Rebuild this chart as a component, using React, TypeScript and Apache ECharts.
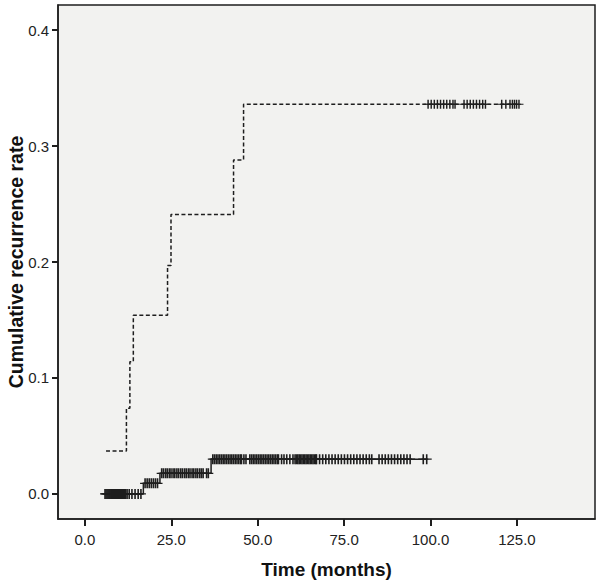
import React, { useEffect, useRef } from "react";
import * as echarts from "echarts";

// Step curve of group A (dashed): [time, cumulative rate]
const dashedSteps: [number, number][] = [
  [6.1, 0.037], [12.0, 0.074], [13.0, 0.114], [14.0, 0.154], [23.9, 0.197],
  [24.9, 0.241], [43.0, 0.288], [45.9, 0.336], [125.6, 0.336],
];
const dashedCensorLevel = 0.336;
const dashedCensorTimes = [
  99.3, 100.2, 101.1, 102.0, 102.9, 103.8, 104.7, 105.6, 106.5, 107.1,
  109.7, 110.6, 111.5, 112.4, 113.3, 114.2, 115.1, 115.9,
  120.6, 121.8, 123.0, 123.7, 124.3, 124.9, 125.6,
];

// Step curve of group B (solid)
const solidSteps: [number, number][] = [
  [5.8, 0.0], [16.9, 0.0092], [21.7, 0.0178], [36.5, 0.030], [98.9, 0.030],
];
const solidCensorLevels = [0.0, 0.0092, 0.0178, 0.030];
const solidCensorTimes: number[][] = [
  [5.8, 6.1, 6.4, 6.7, 7.0, 7.3, 7.6, 7.9, 8.2, 8.5, 8.8, 9.1, 9.4, 9.7, 10.0,
    10.3, 10.6, 10.9, 11.2, 11.5, 11.8, 12.2, 12.8, 13.6, 14.5, 15.4, 16.2],
  [17.4, 18.0, 18.6, 19.2, 19.8, 20.4, 21.0],
  [22.2, 22.7, 23.3, 23.8, 24.4, 24.9, 25.5, 26.0, 26.6, 27.1, 27.7, 28.2, 28.8,
    29.3, 29.9, 30.4, 31.0, 31.5, 32.1, 32.6, 33.2, 33.7, 34.2, 35.2, 35.7],
  [37.0, 37.5, 38.0, 38.5, 39.0, 39.5, 40.0, 40.5, 41.0, 41.5, 42.0, 42.5, 43.0,
    43.5, 44.0, 44.5, 45.0, 45.3, 46.0, 46.6,
    47.7, 48.2, 48.7, 49.2, 49.7, 50.2, 50.7, 51.2, 51.7, 52.2, 52.7, 53.2, 53.7,
    54.2, 54.7, 55.2, 55.7, 56.0, 56.9, 57.6, 58.4, 59.3, 60.2,
    60.8, 61.2, 61.6, 62.0, 62.4, 62.8, 63.2, 63.6, 64.0, 64.4, 64.8, 65.2, 65.6,
    66.0, 66.4, 66.8, 67.0, 67.9, 68.8, 69.7, 70.6, 71.5, 72.4, 73.3, 74.2, 75.1,
    76.0, 76.9, 77.8, 78.7, 79.6, 80.5, 81.4, 82.3, 83.0,
    85.1, 86.0, 86.9, 87.8, 88.7, 89.6, 90.5, 91.4, 92.3, 93.2, 94.1,
    97.9, 98.9],
];

const xTicks = [0, 25, 50, 75, 100, 125];
const yTicks = [0, 0.1, 0.2, 0.3, 0.4];

const CENSOR = "path://M4.2,0h1.6v10h-1.6zM0,4.4h10v1.2h-10z";
const INK = "#1e1e1e";

export default function App() {
  const ref = useRef<HTMLDivElement>(null);
  useEffect(() => {
    if (!ref.current) return;
    const chart = echarts.init(ref.current, undefined, { renderer: "svg" });
    const solidCensor: [number, number][] = [];
    solidCensorTimes.forEach((arr, i) =>
      arr.forEach((t) => solidCensor.push([t, solidCensorLevels[i]]))
    );
    const dashedCensor: [number, number][] = dashedCensorTimes.map((t) => [t, dashedCensorLevel]);
    chart.setOption({
      animation: false,
      backgroundColor: "#ffffff",
      grid: {
        left: 58, right: 5, top: 5, bottom: 67,
        containLabel: false, outerBoundsMode: "none",
        show: true, backgroundColor: "#f2f2f0", borderColor: INK, borderWidth: 1.5,
      },
      xAxis: {
        type: "value", min: -7.8, max: 147.6,
        name: "Time (months)", nameLocation: "middle", nameGap: 41, nameMoveOverlap: false,
        nameTextStyle: { fontFamily: "Liberation Sans", fontWeight: "bold", fontSize: 19, color: "#111" },
        axisLine: { show: true, onZero: false, lineStyle: { color: INK, width: 1.5 } },
        axisTick: { show: true, inside: false, length: 7, lineStyle: { color: INK, width: 2 }, customValues: xTicks },
        axisLabel: {
          customValues: xTicks, margin: 13, fontFamily: "Liberation Sans", fontSize: 15, color: "#222",
          formatter: (v: number) => v.toFixed(1),
        },
        splitLine: { show: false },
      },
      yAxis: {
        type: "value", min: -0.0216, max: 0.4216,
        name: "Cumulative recurrence rate", nameLocation: "middle", nameGap: 32, nameMoveOverlap: false,
        nameTextStyle: { fontFamily: "Liberation Sans", fontWeight: "bold", fontSize: 19.5, color: "#111" },
        axisLine: { show: true, onZero: false, lineStyle: { color: INK, width: 1.5 } },
        axisTick: { show: true, inside: false, length: 6, lineStyle: { color: INK, width: 2 }, customValues: yTicks },
        axisLabel: {
          customValues: yTicks, margin: 9, fontFamily: "Liberation Sans", fontSize: 15, color: "#222",
          formatter: (v: number) => v.toFixed(1),
        },
        splitLine: { show: false },
      },
      series: [
        {
          type: "line", step: "end", data: dashedSteps, showSymbol: false, symbol: "none",
          lineStyle: { color: INK, width: 1.5, type: [4, 2.5] },
        },
        {
          type: "line", step: "end", data: solidSteps, showSymbol: false, symbol: "none",
          lineStyle: { color: INK, width: 1.5 },
        },
        {
          type: "scatter", data: dashedCensor, symbol: CENSOR, symbolSize: [9, 9],
          itemStyle: { color: INK, opacity: 1 },
        },
        {
          type: "scatter", data: solidCensor, symbol: CENSOR, symbolSize: [10, 10],
          itemStyle: { color: INK, opacity: 1 },
        },
      ],
    });
    return () => chart.dispose();
  }, []);
  return (
    <div
      ref={ref}
      style={{ position: "absolute", left: 0, top: 0, width: 600, height: 586 }}
    />
  );
}
